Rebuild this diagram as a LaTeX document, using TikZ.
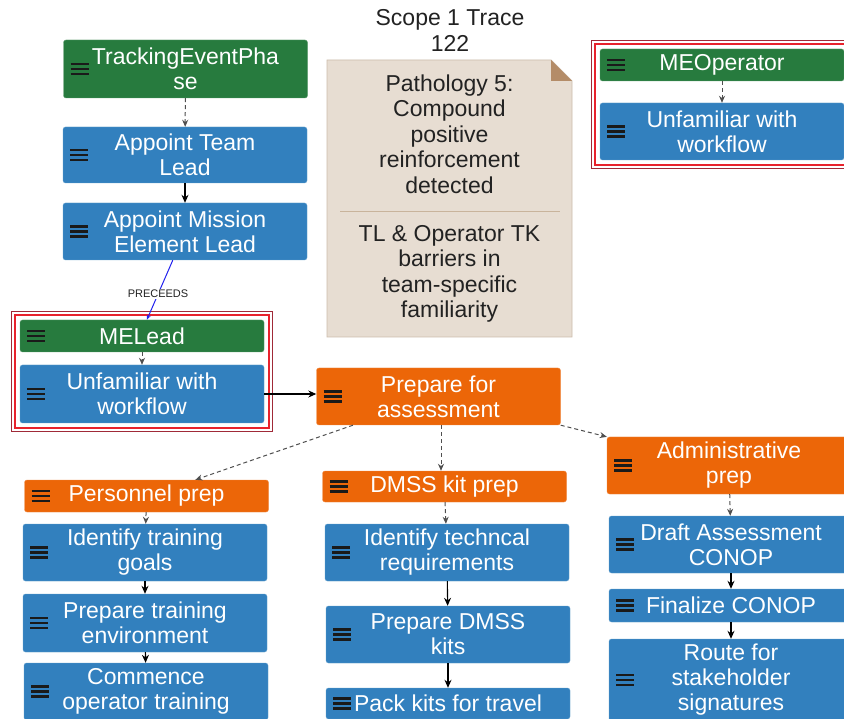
\documentclass[tikz,border=0pt]{standalone}
\usepackage{fontspec}
\setmainfont{Liberation Sans}
\usetikzlibrary{arrows.meta,calc,fit}

\definecolor{phasegreen}{HTML}{277B3E}
\definecolor{taskblue}{HTML}{3280BE}
\definecolor{steporange}{HTML}{EC6608}
\definecolor{burgerink}{HTML}{1A1A1A}
\definecolor{arrowgray}{HTML}{4F4F4F}
\definecolor{notefill}{HTML}{E7DDD2}
\definecolor{noteedge}{HTML}{CDBDAC}
\definecolor{notefold}{HTML}{B48C68}
\definecolor{noterule}{HTML}{C9B49C}
\definecolor{grpdark}{HTML}{A02A38}
\definecolor{grpred}{HTML}{E8222C}
\definecolor{linkblue}{HTML}{2222EE}
\definecolor{inktext}{HTML}{222222}

\tikzset{
  card/.style={draw=#1!75!white, fill=#1, rounded corners=2.5pt,
    minimum width=244pt, inner sep=0pt, text=white, align=center,
    font=\fontsize{23}{25}\selectfont,
    path picture={\foreach \dy in {-4.8,0,4.8}{
      \draw[line width=2.5pt, burgerink]
        ([xshift=7pt,yshift=\dy pt]path picture bounding box.west) -- ++(18pt,0pt);}}},
  phase/.style={card=phasegreen},
  task/.style={card=taskblue},
  stepbox/.style={card=steporange},
  dasharr/.style={draw=arrowgray, dash pattern=on 4pt off 3pt, line width=1pt,
    -{Stealth[length=7pt,width=6pt]}},
  solidarr/.style={draw=black, line width=1.1pt, -{Stealth[length=8pt,width=7pt]}},
  linkarr/.style={draw=linkblue, line width=1pt, -{Stealth[length=5pt,width=4pt]}},
  grpouter/.style={draw=grpdark, line width=1pt, inner sep=8pt},
  grpinner/.style={draw=grpred, line width=1.6pt, inner sep=5pt},
  notetext/.style={text=inktext, align=center, font=\fontsize{23}{25.5}\selectfont, inner sep=0pt},
}

\begin{document}
\begin{tikzpicture}[x=1pt,y=-1pt]
\path[use as bounding box] (0,0) rectangle (844,719);
\fill[white] (0,0) rectangle (844,719);
\clip (0,0) rectangle (844,719);

% title
\node[notetext, font=\fontsize{23}{26}\selectfont] (title) at (450,30) {Scope 1 Trace\\122};

% pathology note
\fill[notefill, draw=noteedge, line width=0.8pt]
  (327,60) -- (551,60) -- (572,81) -- (572,337) -- (327,337) -- cycle;
\fill[notefold] (551,60) -- (572,81) -- (551,81) -- cycle;
\draw[noterule, line width=1pt] (340,212) -- (560,212);
\node[notetext] (notetop) at (449.5,134)
  {Pathology 5:\\Compound\\positive\\reinforcement\\detected};
\node[notetext] (notebot) at (449.5,274)
  {TL \& Operator TK\\barriers in\\team-specific\\familiarity};

% left chain
\node[phase, minimum height=58] (tep) at (185.5,69) {TrackingEventPha\\se};
\node[task, minimum height=56] (atl) at (185,155) {Appoint Team\\Lead};
\node[task, minimum height=57] (ame) at (185,231.5) {Appoint Mission\\Element Lead};

% MELead group
\node[phase, minimum height=32] (mel) at (142,336) {MELead};
\node[task, minimum height=58] (mu) at (142,394) {Unfamiliar with\\workflow};
\node[grpouter, fit=(mel)(mu)] (melgrp) {};
\node[grpinner, fit=(mel)(mu)] (melgrpin) {};

% MEOperator group
\node[phase, minimum height=32] (meo) at (722,65) {MEOperator};
\node[task, minimum height=57] (meu) at (722,131.5) {Unfamiliar with\\workflow};
\node[grpouter, fit=(meo)(meu)] (meogrp) {};
\node[grpinner, fit=(meo)(meu)] (meogrpin) {};

% assessment preparation
\node[stepbox, minimum height=57] (pfa) at (438.5,396.5) {Prepare for\\assessment};
\node[stepbox, minimum height=32] (pp) at (146.5,496) {Personnel prep};
\node[stepbox, minimum height=31] (dkp) at (444.5,486.5) {DMSS kit prep};
\node[stepbox, minimum height=57] (adm) at (729,465.5) {Administrative\\prep};

% personnel column
\node[task, minimum height=57] (itg) at (145,552.5) {Identify training\\goals};
\node[task, minimum height=58] (pte) at (145,623) {Prepare training\\environment};
\node[task, minimum height=57] (cot) at (146,691.5) {Commence\\operator training};

% DMSS column
\node[task, minimum height=57] (itr) at (447,552.5) {Identify techncal\\requirements};
\node[task, minimum height=57] (pdk) at (448,634.5) {Prepare DMSS\\kits};
\node[task, minimum height=31] (pkt) at (448,703.5) {Pack kits for travel};

% administrative column
\node[task, minimum height=57] (dac) at (731,544.5) {Draft Assessment\\CONOP};
\node[task, minimum height=33] (fc) at (731,605.5) {Finalize CONOP};
\node[task, minimum height=82] (rfs) at (731,680) {Route for\\stakeholder\\signatures};

% connectors
\draw[dasharr] (tep) -- (atl);
\draw[solidarr] (atl) -- (ame);
\draw[linkarr] ($(ame.south west)!0.45!(ame.south east)$) --
  node[pos=0.57, fill=white, inner sep=1pt, text=inktext,
       font=\fontsize{11}{11}\selectfont] (prec) {PRECEEDS}
  ($(mel.north west)!0.52!(mel.north east)$);
\draw[dasharr] (mel) -- (mu);
\draw[dasharr] (meo) -- (meu);
\draw[solidarr] (mu.east) -- (mu.east -| pfa.west);
\draw[dasharr] ($(pfa.south west)!0.15!(pfa.south east)$) --
  ($(pp.north west)!0.7!(pp.north east)$);
\draw[dasharr] (pfa.south -| 441,0) -- (dkp.north -| 441,0);
\draw[dasharr] (pfa.south east) -- (adm.north west);

\draw[dasharr] (pp) -- (itg);
\draw[solidarr] (itg) -- (pte);
\draw[solidarr] (pte) -- (cot);

\draw[dasharr] (dkp) -- (itr);
\draw[solidarr] (itr) -- (pdk);
\draw[solidarr] (pdk) -- (pkt);

\draw[dasharr] (adm) -- (dac);
\draw[solidarr] (dac) -- (fc);
\draw[solidarr] (fc) -- (rfs);
\end{tikzpicture}
\end{document}
